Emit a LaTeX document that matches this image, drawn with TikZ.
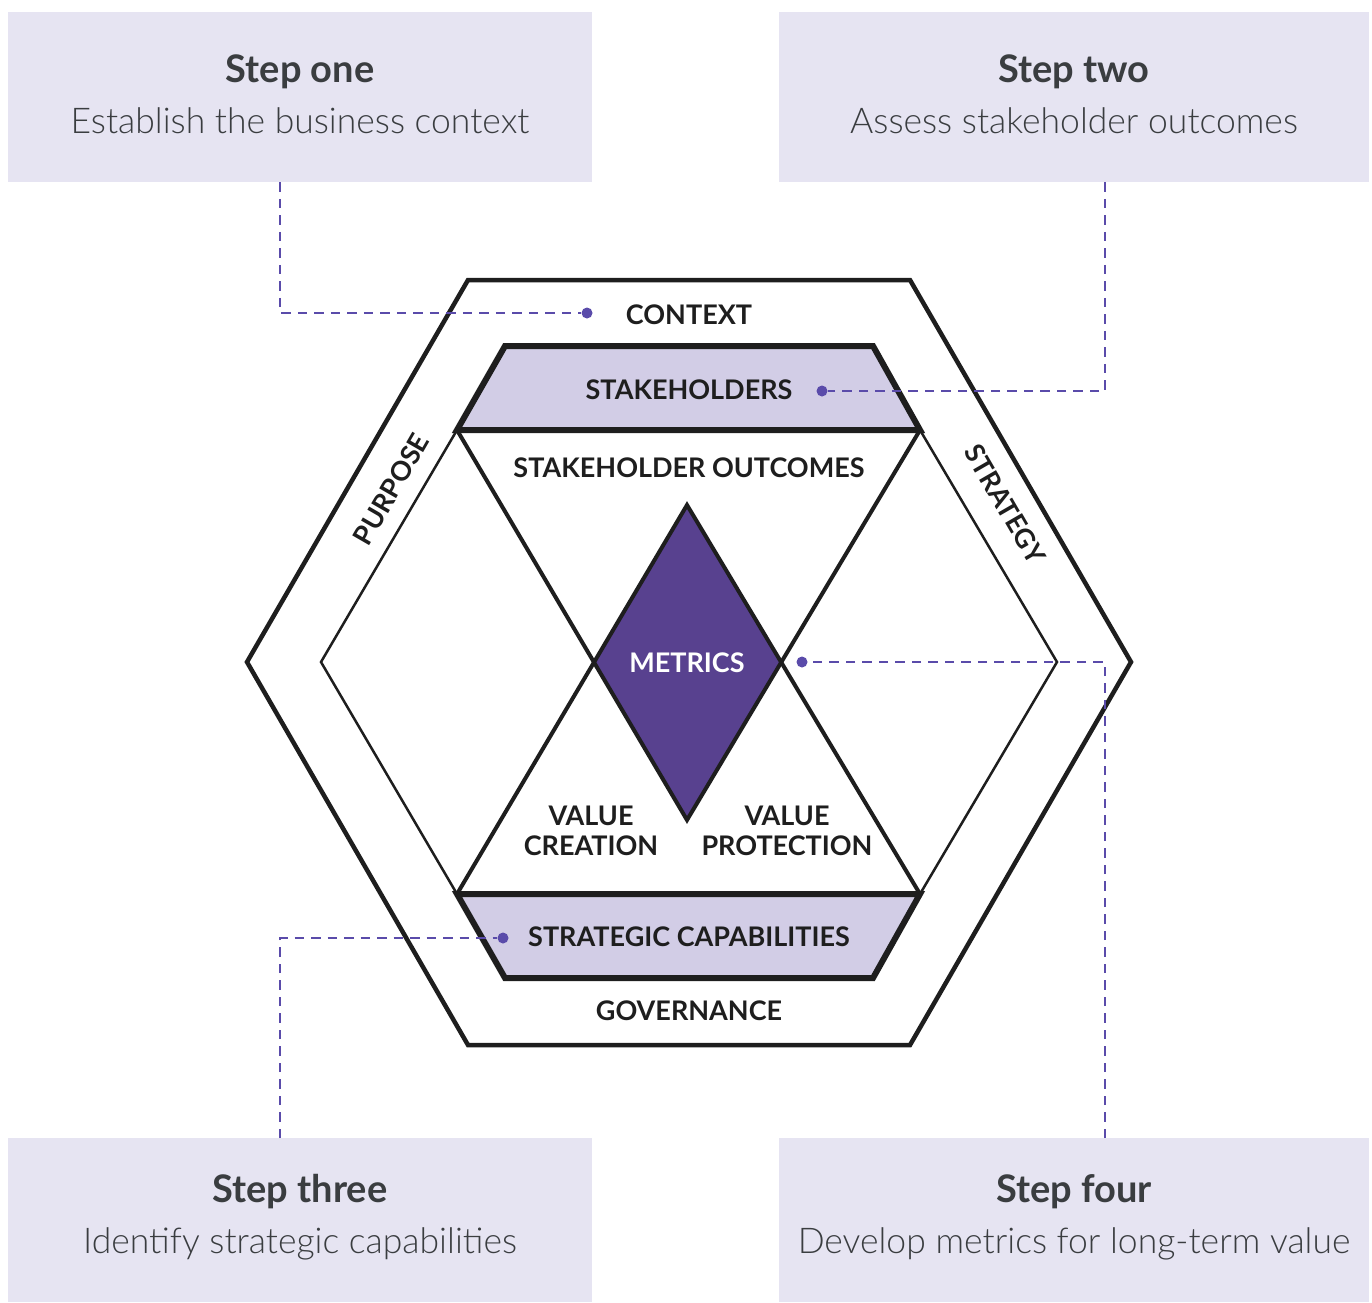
\documentclass[tikz,border=0pt]{standalone}
\usepackage{fontspec}
\setmainfont{Lato}
\newfontfamily\lightfont{Lato Light}
\definecolor{boxc}{HTML}{E6E4F2}
\definecolor{bandc}{HTML}{D2CDE6}
\definecolor{diac}{HTML}{58418F}
\definecolor{dashc}{HTML}{5A4BAA}
\definecolor{labc}{HTML}{1E1E1E}
\definecolor{stepc}{HTML}{3A3D40}
\begin{document}
\begin{tikzpicture}[x=1pt,y=-1pt,
  stepbox/.style={fill=boxc, draw=none, minimum width=584pt, minimum height=170pt, inner sep=0pt},
  steptitle/.style={anchor=base, text=stepc, font=\bfseries\fontsize{38}{42}\selectfont},
  stepsub/.style={anchor=base, text=stepc, font=\lightfont\fontsize{35.5}{40}\selectfont},
  lbl/.style={text=labc, font=\bfseries\fontsize{27}{30}\selectfont, inner sep=0pt, align=center},
  thick line/.style={draw=labc, line width=4.5pt, line join=miter},
  thin line/.style={draw=labc, line width=2.5pt, line join=miter},
  band/.style={fill=bandc, draw=labc, line width=6pt, line join=miter},
  conn/.style={draw=dashc, line width=2.2pt, dash pattern=on 9.5pt off 7pt},
  dotc/.style={circle, fill=dashc, inner sep=0pt, minimum size=11pt}]
\useasboundingbox (0,0) rectangle (1372,1302);
% step boxes
\node[stepbox, anchor=north west] (s1) at (8,12) {};
\node[stepbox, anchor=north west, minimum width=590pt] (s2) at (779,12) {};
\node[stepbox, anchor=north west, minimum height=164pt] (s3) at (8,1138) {};
\node[stepbox, anchor=north west, minimum width=590pt, minimum height=164pt] (s4) at (779,1138) {};
\node[steptitle] (s1t) at (300,82) {Step one};
\node[stepsub] (s1s) at (300,133) {Establish the business context};
\node[steptitle] (s2t) at (1074,82) {Step two};
\node[stepsub] (s2s) at (1074,133) {Assess stakeholder outcomes};
\node[steptitle] (s3t) at (300,1202) {Step three};
\node[stepsub] (s3s) at (300,1253) {Identify strategic capabilities};
\node[steptitle] (s4t) at (1074,1202) {Step four};
\node[stepsub] (s4s) at (1074,1253) {Develop metrics for long-term value};
% outer hexagon
\draw[thick line] (468,280) -- (910,280) -- (1131,662) -- (910,1045) -- (468,1045) -- (247,662) -- cycle;
% inner hexagon sides
\draw[thin line] (457,430) -- (321,662) -- (457,894);
\draw[thin line] (920,430) -- (1057,662) -- (920,894);
% diamond fill
\fill[diac] (687,505) -- (780,662) -- (687,820) -- (595,662) -- cycle;
% triangles
\draw[draw=labc, line width=4pt, line join=miter] (457,430) -- (687,820) -- (920,430);
\draw[draw=labc, line width=4pt, line join=miter] (457,894) -- (687,505) -- (920,894);
% bands
\draw[band] (505,346) -- (873,346) -- (920,430) -- (457,430) -- cycle;
\draw[band] (457,894) -- (920,894) -- (873,978) -- (505,978) -- cycle;
% labels
\node[lbl] (ctx) at (689,315) {CONTEXT};
\node[lbl] (stk) at (689,390) {STAKEHOLDERS};
\node[lbl] (sto) at (689,468) {STAKEHOLDER OUTCOMES};
\node[lbl, text=white] (met) at (687,663) {METRICS};
\node[lbl] (vc) at (591,831) {VALUE\\CREATION};
\node[lbl] (vp) at (787,831) {VALUE\\PROTECTION};
\node[lbl] (scap) at (689,937) {STRATEGIC CAPABILITIES};
\node[lbl] (gov) at (689,1011) {GOVERNANCE};
\node[lbl, rotate=60] (pur) at (391,489) {PURPOSE};
\node[lbl, rotate=-60] (str) at (1005,504) {STRATEGY};
% dots
\node[dotc] (d1) at (587,313) {};
\node[dotc] (d2) at (822,391) {};
\node[dotc] (d3) at (503,938) {};
\node[dotc] (d4) at (802,662) {};
% connectors
\draw[conn] (s1.south -| 280,0) -- (280,313) -- (d1.west);
\draw[conn] (s2.south -| 1105,0) -- (1105,391) -- (d2.east);
\draw[conn] (s3.north -| 280,0) -- (280,938) -- (d3.west);
\draw[conn] (s4.north -| 1105,0) -- (1105,662) -- (d4.east);
\end{tikzpicture}
\end{document}
